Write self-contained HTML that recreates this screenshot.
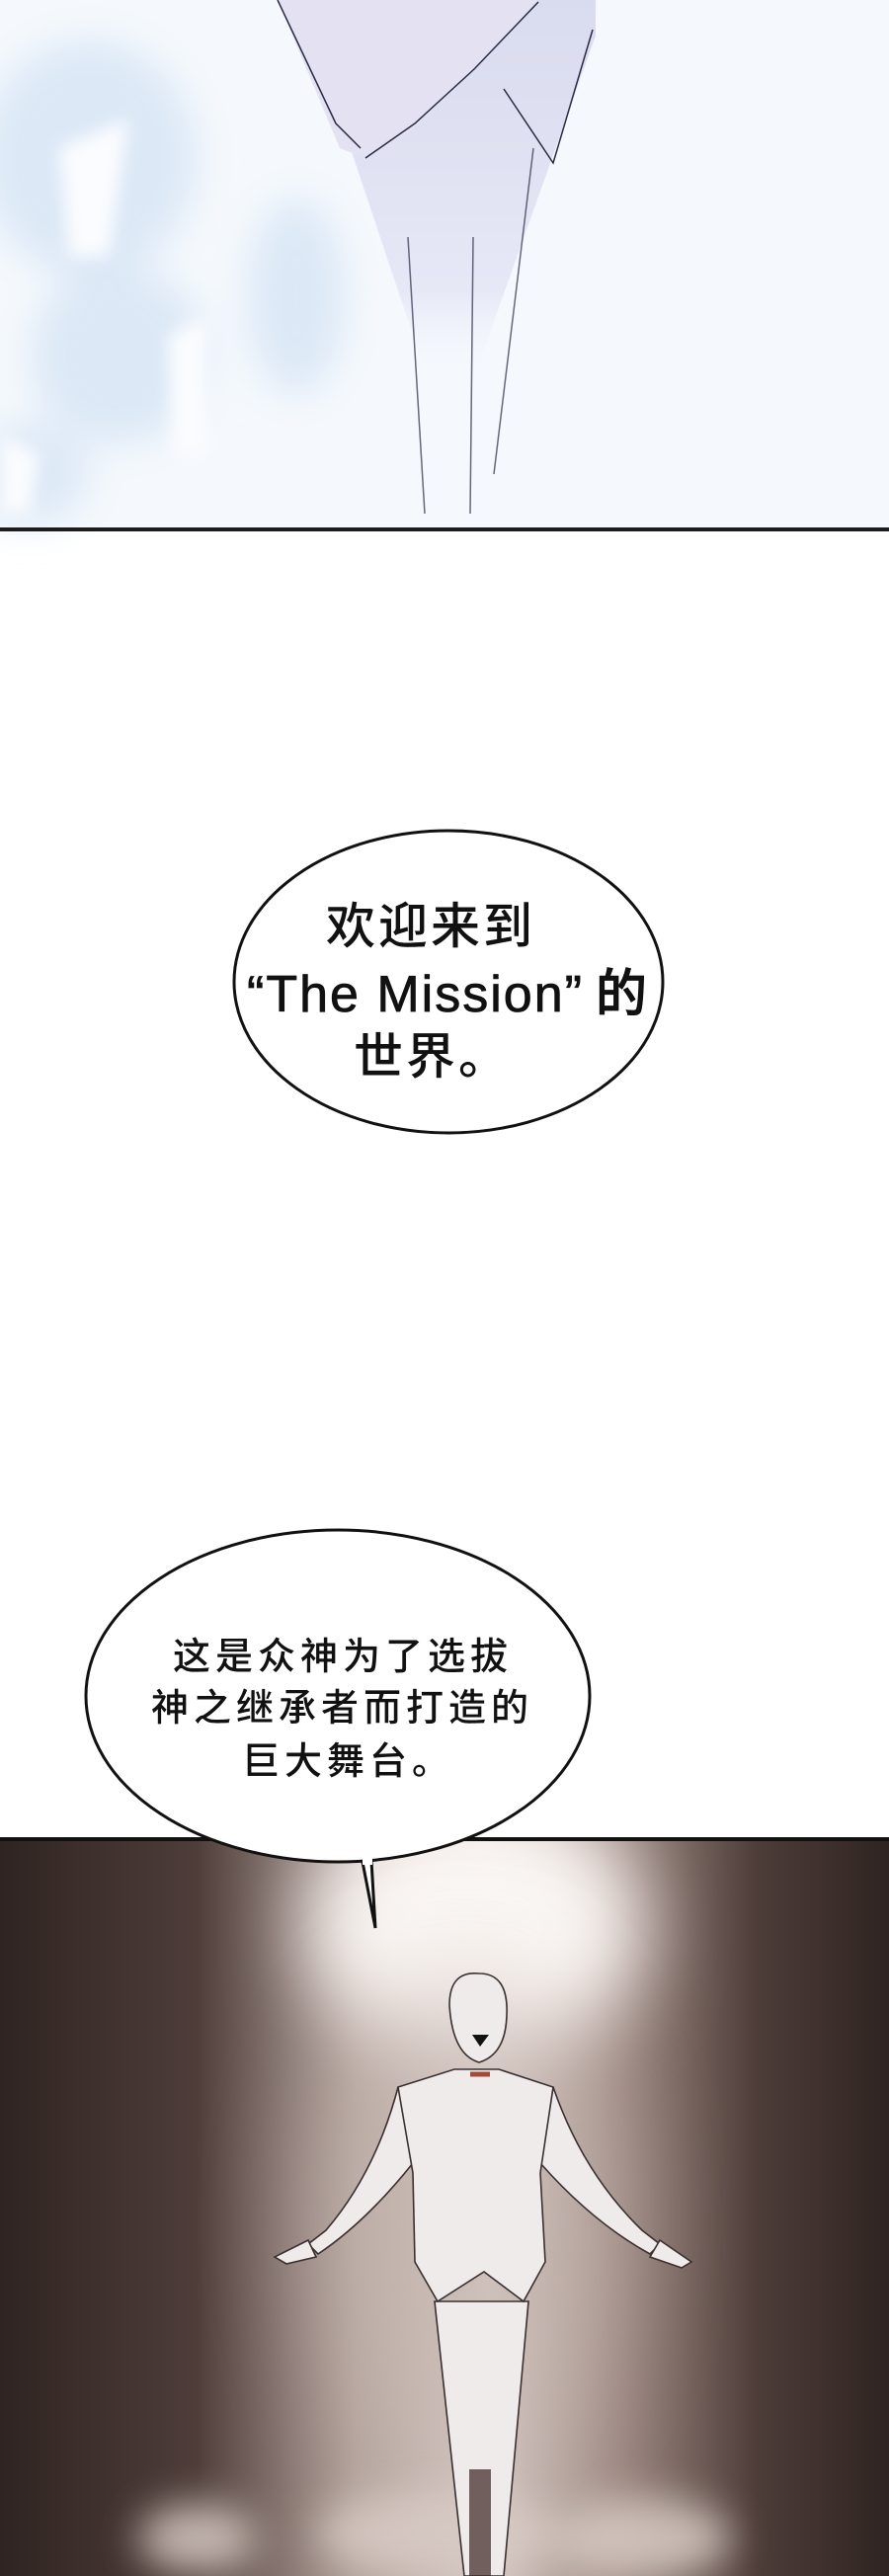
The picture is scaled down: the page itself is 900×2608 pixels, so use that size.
<!DOCTYPE html>
<html><head><meta charset="utf-8"><style>
html,body{margin:0;padding:0;background:#fff}
body{width:900px;height:2608px;position:relative;overflow:hidden}
.t{position:absolute;white-space:nowrap;color:#111;font-family:"Liberation Sans","Noto Sans CJK SC",sans-serif;line-height:1}
.c{font-family:"Noto Sans CJK SC","WenQuanYi Zen Hei",sans-serif;font-weight:500}
</style></head><body>
<svg width="900" height="2608" style="position:absolute;left:0;top:0">
<defs>
<filter id="b8" x="-100%" y="-100%" width="300%" height="300%"><feGaussianBlur stdDeviation="8"/></filter>
<filter id="b20" x="-100%" y="-100%" width="300%" height="300%"><feGaussianBlur stdDeviation="20"/></filter>
<filter id="b40" x="-100%" y="-100%" width="300%" height="300%"><feGaussianBlur stdDeviation="40"/></filter>
<filter id="b60" x="-100%" y="-100%" width="300%" height="300%"><feGaussianBlur stdDeviation="60"/></filter>
<clipPath id="pc"><rect x="0" y="1862" width="900" height="746"/></clipPath>
<linearGradient id="side" x1="0" x2="1" y1="0" y2="0">
<stop offset="0" stop-color="#2f2422"/><stop offset="0.22" stop-color="#4e3d39"/><stop offset="0.4" stop-color="#b3a29c"/><stop offset="0.55" stop-color="#d6c9c4"/><stop offset="0.7" stop-color="#9c8781"/><stop offset="0.85" stop-color="#4e3d39"/><stop offset="1" stop-color="#2f2422"/></linearGradient>
<linearGradient id="pant" x1="0" y1="0" x2="0" y2="1"><stop offset="0" stop-color="#d9dbef"/><stop offset="0.75" stop-color="#e6e8f6"/><stop offset="1" stop-color="#f8fbff" stop-opacity="0"/></linearGradient>
</defs>
<rect x="0" y="0" width="900" height="536" fill="#f5f9fd"/>
<g filter="url(#b20)" fill="#dce8f6">
<ellipse cx="90" cy="160" rx="110" ry="120"/><ellipse cx="120" cy="360" rx="90" ry="90"/><ellipse cx="30" cy="480" rx="60" ry="50"/><ellipse cx="300" cy="300" rx="50" ry="100"/>
</g>
<g fill="#fafcff" filter="url(#b8)"><polygon points="60,150 130,120 110,260 70,260"/><polygon points="170,340 210,320 210,460 175,460"/><polygon points="0,440 40,460 30,520 0,520"/></g>
<path d="M281,0 L344,118 L436,393 L476,393 L603,36 L603,0 Z" fill="url(#pant)"/>
<path d="M281,0 L344,150 L370,160 L420,130 L470,80 L545,0 Z" fill="#e4e2f2"/>
<g fill="none" stroke="#2a2a45" stroke-width="1.5">
<path d="M281,0 L340,125 L365,150"/><path d="M370,160 L420,125 L480,70 L545,2"/><path d="M510,90 L560,165 L600,30"/>
<path d="M413,240 L430,520" stroke-opacity="0.7"/><path d="M479,240 L476,520" stroke-opacity="0.7"/><path d="M540,150 L500,480" stroke-opacity="0.7"/>
</g>
<rect x="0" y="534" width="900" height="4" fill="#1c1c1c"/>
<ellipse cx="454" cy="994" rx="217" ry="153" fill="#fff" stroke="#111" stroke-width="3"/>
<g clip-path="url(#pc)">
<rect x="0" y="1862" width="900" height="746" fill="url(#side)"/>
<ellipse cx="480" cy="1950" rx="170" ry="130" fill="#fbf7f4" filter="url(#b40)"/>
<ellipse cx="470" cy="2250" rx="150" ry="250" fill="#c9bab4" opacity="0.6" filter="url(#b60)"/>
<g filter="url(#b20)" fill="#d8cbc4" opacity="0.85">
<ellipse cx="440" cy="2565" rx="120" ry="40"/><ellipse cx="650" cy="2570" rx="90" ry="40"/><ellipse cx="200" cy="2570" rx="60" ry="35"/>
</g>
</g>
<g stroke="#3a3030" stroke-width="1.6" fill="#efebea">
<path d="M440,2330 L470,2608 L510,2608 L535,2330 Z"/>
<path d="M403,2113 Q380,2200 330,2258 L312,2272 L322,2282 Q370,2250 418,2190 Z"/>
<path d="M560,2113 Q590,2200 650,2258 L668,2272 L658,2282 Q600,2250 547,2190 Z"/>
<path d="M312,2268 L278,2285 L290,2292 L320,2285 Z"/><path d="M668,2268 L700,2290 L690,2296 L658,2285 Z"/>
<path d="M403,2113 L460,2095 L505,2095 L560,2113 L547,2200 L552,2290 L530,2330 L490,2300 L443,2330 L420,2290 L418,2200 Z"/>
<path d="M455,2030 Q455,1995 485,1998 Q515,1998 513,2040 Q512,2080 485,2088 Q458,2080 455,2030 Z"/>
</g>
<path d="M478,2060 L495,2060 L486,2072 Z" fill="#111"/>
<path d="M476,2100 L496,2100" stroke="#a34a3a" stroke-width="5"/>
<rect x="475" y="2500" width="22" height="108" fill="#3a2320" opacity="0.7"/>
<rect x="0" y="1860" width="900" height="4" fill="#111"/>
<path d="M367,1885 L380,1952 L376,1884" fill="#fff" stroke="#111" stroke-width="3"/>
<ellipse cx="342" cy="1717" rx="255" ry="168" fill="#fff" stroke="#111" stroke-width="3"/>
<rect x="367" y="1878" width="10" height="10" fill="#fff"/>
</svg>
<div class="t c" style="left:330px;top:909px;font-size:50px;letter-spacing:3px">欢迎来到</div>
<div class="t" style="left:250px;top:976px;font-size:52px;letter-spacing:2px;-webkit-text-stroke:0.8px #111">“The Mission”<span class="c" style="margin-left:12px">的</span></div>
<div class="t c" style="left:358px;top:1041px;font-size:50px;letter-spacing:3px">世界。</div>
<div class="t c" style="left:175px;top:1655px;font-size:38px;letter-spacing:5px">这是众神为了选拔</div>
<div class="t c" style="left:153px;top:1707px;font-size:38px;letter-spacing:5px">神之继承者而打造的</div>
<div class="t c" style="left:245px;top:1761px;font-size:38px;letter-spacing:5px">巨大舞台。</div>
</body></html>
